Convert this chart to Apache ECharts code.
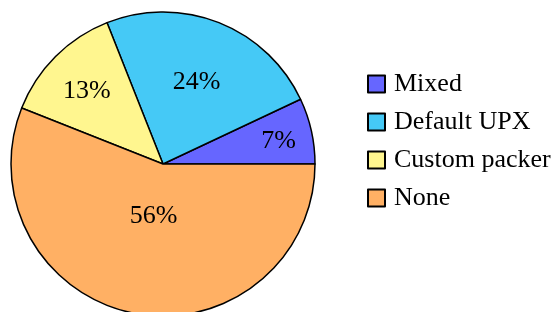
<!DOCTYPE html>
<html>
<head>
<meta charset="utf-8">
<script src="https://cdn.jsdelivr.net/npm/echarts@6/dist/echarts.min.js"></script>
<style>
html, body { margin: 0; padding: 0; background: #fff; }
#chart { width: 559px; height: 312px; }
</style>
</head>
<body>
<div id="chart"></div>
<script>
var categories = ['Mixed', 'Default UPX', 'Custom packer', 'None'];
var shares = [7, 24, 13, 56];
var colors = ['#6666ff', '#45c9f6', '#fff68f', '#ffb064'];

// how far out each percent label sits, as a share of the radius
var labelRadius = [0.76, 0.58, 0.69, 0.31];

var R = 152;
var total = shares.reduce(function (a, b) { return a + b; }, 0);
var acc = 0;
var pieData = categories.map(function (name, i) {
    var mid = (acc + shares[i] / 2) / total * 2 * Math.PI;
    acc += shares[i];
    var d = (labelRadius[i] - 0.5) * R;
    return {
        name: name,
        value: shares[i],
        itemStyle: { color: colors[i] },
        label: { offset: [d * Math.cos(mid), -d * Math.sin(mid) + 3] }
    };
});

var chart = echarts.init(document.getElementById('chart'));
chart.setOption({
    animation: false,
    textStyle: { fontFamily: 'Liberation Serif' },
    legend: {
        orient: 'vertical',
        left: 362,
        top: 66,
        itemWidth: 17,
        itemHeight: 17,
        itemGap: 12,
        icon: 'rect',
        textStyle: {
            fontFamily: 'Liberation Serif',
            fontSize: 26,
            color: '#000',
            padding: [0, 0, 0, 4]
        },
        data: categories
    },
    series: [
        {
            type: 'pie',
            center: [163, 164],
            radius: R,
            startAngle: 0,
            clockwise: false,
            avoidLabelOverlap: false,
            itemStyle: { borderColor: '#000', borderWidth: 1.5 },
            label: {
                show: true,
                position: 'inside',
                formatter: '{c}%',
                fontFamily: 'Liberation Serif',
                fontSize: 26,
                color: '#000'
            },
            labelLine: { show: false },
            emphasis: { disabled: true },
            data: pieData
        }
    ]
});
</script>
</body>
</html>
